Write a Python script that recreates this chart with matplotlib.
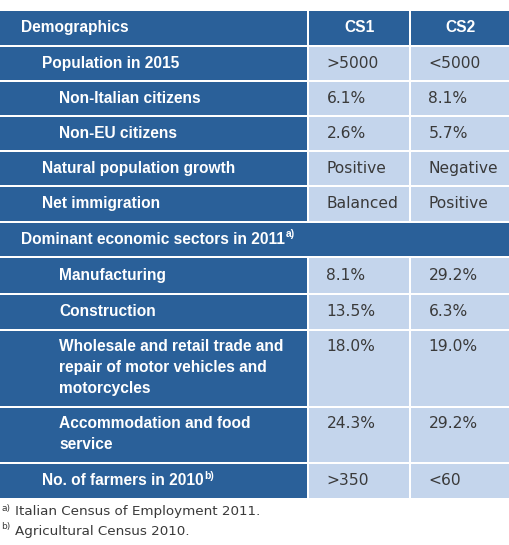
import matplotlib.pyplot as plt
from matplotlib.patches import Rectangle

plt.rcParams['font.family'] = ['Liberation Sans', 'DejaVu Sans']

# table content
header = ['Demographics', 'CS1', 'CS2']
labels = ['Population in 2015', 'Non-Italian citizens', 'Non-EU citizens',
          'Natural population growth', 'Net immigration',
          'Dominant economic sectors in 2011', 'Manufacturing', 'Construction',
          'Wholesale and retail trade and\nrepair of motor vehicles and\nmotorcycles',
          'Accommodation and food\nservice', 'No. of farmers in 2010']
indent = [1, 2, 2, 1, 1, 0, 2, 2, 2, 2, 1]
notes = ['', '', '', '', '', 'a)', '', '', '', '', 'b)']
cs1 = ['>5000', '6.1%', '2.6%', 'Positive', 'Balanced', None,
       '8.1%', '13.5%', '18.0%', '24.3%', '>350']
cs2 = ['<5000', '8.1%', '5.7%', 'Negative', 'Positive', None,
       '29.2%', '6.3%', '19.0%', '29.2%', '<60']
footnotes = [('a)', 'Italian Census of Employment 2011.'),
             ('b)', 'Agricultural Census 2010.')]

dark = '#2a6099'
light = '#c4d5ec'
txt = '#3a3a3a'

fig = plt.figure(figsize=(5.1, 5.45), dpi=100)
ax = fig.add_axes([0, 0, 1, 1])
ax.set_xlim(0, 510)
ax.set_ylim(545, 0)
ax.axis('off')

col_x = [0, 309.5, 411.5, 512.5]
gap = 2.5
heights = [35, 35, 35, 35, 36, 35, 37, 36, 77, 56, 36]
fs = 11.2
vfs = 11.2
indent_x = [21, 42, 59]
pad = 17
line_h = 20.8
vfont = 'DejaVu Sans'

def cell(x0, x1, y0, y1, color):
    ax.add_patch(Rectangle((x0, y0), x1 - x0 - gap, y1 - y0 - gap, color=color, lw=0))

# header
y = 11
h = 36
for i, c in enumerate(header):
    cell(col_x[i], col_x[i + 1], y, y + h, dark)
ax.text(indent_x[0], y + 16.5, header[0], color='white', fontsize=fs,
        fontweight='bold', va='center')
for i in (1, 2):
    ax.text((col_x[i] + col_x[i + 1] - gap) / 2, y + 16.5, header[i],
            color='white', fontsize=fs, fontweight='bold', va='center', ha='center')
y += h

fig.canvas.draw()
renderer = fig.canvas.get_renderer()

for i, lab in enumerate(labels):
    h = heights[i]
    lines = lab.split('\n')
    ty = y + 15.5 if len(lines) > 1 else y + (h - gap) / 2
    if cs1[i] is None:
        cell(col_x[0], col_x[3], y, y + h, dark)
    else:
        cell(col_x[0], col_x[1], y, y + h, dark)
        cell(col_x[1], col_x[2], y, y + h, light)
        cell(col_x[2], col_x[3], y, y + h, light)
        ax.text(col_x[1] + pad, ty, cs1[i], color=txt, fontsize=vfs,
                family=vfont, va='center')
        ax.text(col_x[2] + pad, ty, cs2[i], color=txt, fontsize=vfs,
                family=vfont, va='center')
    for k, ln in enumerate(lines):
        t = ax.text(indent_x[indent[i]], ty + k * line_h, ln, color='white',
                    fontsize=fs, fontweight='bold', va='center')
    if notes[i]:
        bb = t.get_window_extent(renderer)
        x_end = ax.transData.inverted().transform((bb.x1, bb.y1))[0]
        ax.text(x_end + 1, ty - 5, notes[i], color='white', fontsize=7.5,
                fontweight='bold', va='center')
    y += h

# footnotes
fy = 512
for mark, note in footnotes:
    ax.text(1, fy - 4, mark, color=txt, fontsize=6.5, family=vfont, va='center')
    ax.text(15, fy, note, color=txt, fontsize=9.7, family=vfont, va='center')
    fy += 19

fig.savefig('out.png', dpi=100)
